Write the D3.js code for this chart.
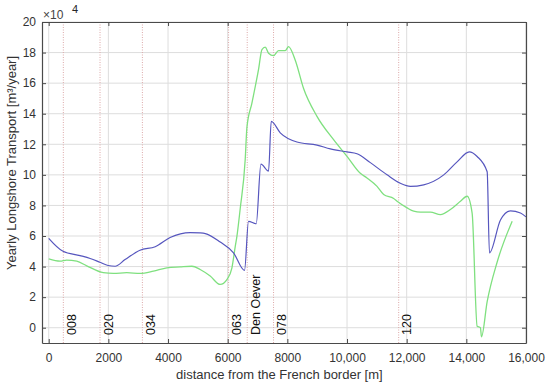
<!DOCTYPE html>
<html>
<head>
<meta charset="utf-8">
<script src="https://cdn.jsdelivr.net/npm/d3@7"></script>
<style>
  body { margin: 0; background: #fff; }
  text { font-family: "Liberation Sans", Arial, sans-serif; fill: #262626; }
</style>
</head>
<body>
<div id="chart"></div>
<script>
// data (transport in 10^4 m3/year)
const blueX = [0, 480, 1050, 1390, 1720, 1990, 2225, 2560, 3060, 3570, 4070, 4740, 5070, 5250, 5750, 6195, 6564,
  6698, 6956, 7114, 7369, 7460, 7762, 8322, 8993, 9440, 10000, 10335, 10782, 11342, 11788, 12124, 12570,
  13242, 13690, 14100, 14362, 14698, 14775, 15144, 15480, 15815, 16000];
const blueY = [5.85, 5.0, 4.72, 4.53, 4.28, 4.07, 4.02, 4.46, 5.07, 5.3, 5.9, 6.22, 6.2, 6.16, 5.6, 4.9, 3.75,
  6.96, 6.8, 10.7, 10.25, 13.5, 12.75, 12.15, 11.95, 11.7, 11.5, 11.38, 10.8, 10.0, 9.45, 9.25, 9.35,
  10.0, 10.85, 11.5, 11.2, 10.2, 4.9, 7.05, 7.65, 7.5, 7.25];

const greenX = [0, 380, 600, 940, 1275, 1830, 2170, 2617, 3064, 3510, 3960, 4406, 4800, 5077, 5413, 5748, 5973,
  6140, 6252, 6309, 6420, 6587, 6644, 6812, 7034, 7148, 7258, 7369, 7537, 7705, 7930, 8040, 8265, 8544,
  8993, 9550, 10000, 10446, 10671, 11007, 11228, 11564, 11678, 12013, 12235, 12460, 12795, 13131, 13466,
  13802, 14026, 14194, 14362, 14473, 14507, 14698, 15034, 15537];
const greenY = [4.5, 4.35, 4.42, 4.35, 4.05, 3.6, 3.55, 3.6, 3.55, 3.7, 3.92, 3.98, 4.02, 3.81, 3.38, 2.83, 3.15,
  3.9, 5.3, 5.98, 7.8, 11.0, 13.1, 14.7, 16.9, 18.2, 18.35, 17.96, 17.8, 18.13, 18.13, 18.39, 17.5, 15.65,
  13.83, 12.3, 11.21, 10.1, 9.8, 9.25, 8.71, 8.45, 8.27, 7.84, 7.62, 7.56, 7.56, 7.4, 7.73,
  8.27, 8.6, 7.5, 0.1, 0.0, -0.6, 1.7, 4.3, 6.97];

const stationNames = ["008", "020", "034", "063", "Den Oever", "078", "120"];
const stationX = [490, 1720, 3140, 6030, 6655, 7537, 11732];

const xTicks = [0, 2000, 4000, 6000, 8000, 10000, 12000, 14000, 16000];
const yTicks = [0, 2, 4, 6, 8, 10, 12, 14, 16, 18, 20];

// layout
const W = 550, H = 387;
const margin = { top: 22, right: 24, bottom: 44, left: 42 };
const width = W - margin.left - margin.right;
const height = H - margin.top - margin.bottom;

const svg = d3.select("#chart").append("svg")
  .attr("width", W)
  .attr("height", H);

const g = svg.append("g")
  .attr("transform", `translate(${margin.left},${margin.top})`);

const x = d3.scaleLinear().domain([-225, 16000]).range([0, width]);
const y = d3.scaleLinear().domain([-1, 20]).range([height, 0]);

// grid
g.append("g").selectAll("line").data(xTicks).join("line")
  .attr("x1", d => x(d)).attr("x2", d => x(d))
  .attr("y1", 0).attr("y2", height)
  .attr("stroke", "#dddddd").attr("stroke-width", 1);
g.append("g").selectAll("line").data(yTicks).join("line")
  .attr("x1", 0).attr("x2", width)
  .attr("y1", d => y(d)).attr("y2", d => y(d))
  .attr("stroke", "#dddddd").attr("stroke-width", 1);

// station markers
const st = stationNames.map((n, i) => ({ name: n, x: stationX[i] }));
g.append("g").selectAll("line").data(st).join("line")
  .attr("x1", d => x(d.x)).attr("x2", d => x(d.x))
  .attr("y1", 0).attr("y2", height)
  .attr("stroke", "#dca8a8").attr("stroke-width", 1)
  .attr("stroke-dasharray", "1,1.5");
g.append("g").selectAll("text").data(st).join("text")
  .attr("transform", d => `translate(${x(d.x) + 12.5},${height - 8}) rotate(-90)`)
  .attr("font-size", 12.5)
  .style("fill", "#111")
  .text(d => d.name);

// lines
const line = d3.line().x(d => x(d[0])).y(d => y(d[1])).curve(d3.curveMonotoneX);
g.append("path")
  .datum(greenX.map((v, i) => [v, greenY[i]]))
  .attr("fill", "none").attr("stroke", "#7fe07f").attr("stroke-width", 1.3)
  .attr("d", line);
g.append("path")
  .datum(blueX.map((v, i) => [v, blueY[i]]))
  .attr("fill", "none").attr("stroke", "#5656be").attr("stroke-width", 1.2)
  .attr("d", line);

// axes (box with ticks inward on all sides)
const fmt = d => d >= 10000 ? d3.format(",")(d) : String(d);
const axB = g.append("g").attr("transform", `translate(0,${height})`)
  .call(d3.axisBottom(x).tickValues(xTicks).tickFormat(fmt).tickSizeInner(-4).tickSizeOuter(0).tickPadding(10));
const axT = g.append("g")
  .call(d3.axisTop(x).tickValues(xTicks).tickFormat("").tickSizeInner(-4).tickSizeOuter(0));
const axL = g.append("g")
  .call(d3.axisLeft(y).tickValues(yTicks).tickSizeInner(-4).tickSizeOuter(0).tickPadding(6));
const axR = g.append("g").attr("transform", `translate(${width},0)`)
  .call(d3.axisRight(y).tickValues(yTicks).tickFormat("").tickSizeInner(-4).tickSizeOuter(0));

[axB, axT, axL, axR].forEach(a => {
  a.select(".domain").attr("stroke", "#4a4a4a").attr("stroke-width", 1.2);
  a.selectAll(".tick line").attr("stroke", "#4a4a4a");
  a.selectAll("text").attr("font-size", 12).attr("font-family", "Liberation Sans, Arial, sans-serif").style("fill", "#333");
});

// exponent label
svg.append("text").attr("x", 43).attr("y", 19).attr("font-size", 12).style("fill", "#444").text("×10");
svg.append("text").attr("x", 72).attr("y", 13).attr("font-size", 11).text("4");

// axis titles
svg.append("text")
  .attr("x", margin.left + x(8000) - 8).attr("y", 379)
  .attr("text-anchor", "middle").attr("font-size", 13).style("fill", "#333")
  .text("distance from the French border [m]");
svg.append("text")
  .attr("transform", "translate(16,163) rotate(-90)")
  .attr("text-anchor", "middle").attr("font-size", 13).style("fill", "#333")
  .text("Yearly Longshore Transport [m³/year]");
</script>
</body>
</html>
